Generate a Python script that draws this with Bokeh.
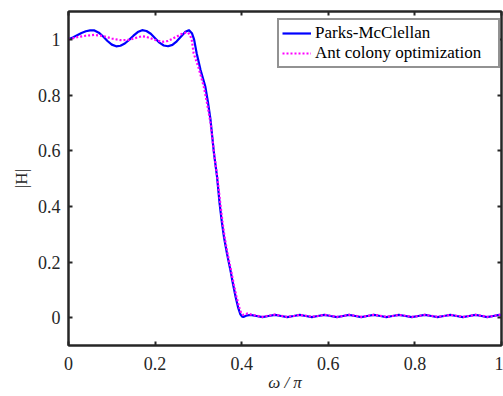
from bokeh.plotting import figure
from bokeh.models import LinearAxis, FixedTicker, Legend, LegendItem, Range1d
from bokeh.embed import file_html
from bokeh.resources import INLINE

# ---- data ----
pm_w = [0.00, 0.01, 0.02, 0.03, 0.04, 0.05, 0.06, 0.07, 0.08, 0.09, 0.10, 0.11, 0.12, 0.13,
        0.14, 0.15, 0.16, 0.17, 0.18, 0.19, 0.20, 0.21, 0.22, 0.23, 0.24, 0.25, 0.26, 0.27,
        0.278, 0.285, 0.290, 0.296, 0.305, 0.316, 0.322, 0.328, 0.336, 0.343, 0.349, 0.354,
        0.359, 0.366, 0.374, 0.380, 0.386, 0.392, 0.397, 0.401, 0.405, 0.410, 0.420,
        0.434, 0.448, 0.462, 0.477, 0.491, 0.505, 0.520, 0.534, 0.548, 0.562, 0.576, 0.591,
        0.605, 0.620, 0.634, 0.648, 0.662, 0.676, 0.690, 0.705, 0.720, 0.734, 0.748, 0.763,
        0.778, 0.793, 0.808, 0.823, 0.838, 0.852, 0.867, 0.882, 0.896, 0.911, 0.925, 0.940,
        0.954, 0.967, 0.981, 0.995, 1.000]
pm_h = [1.000, 1.007, 1.015, 1.023, 1.029, 1.032, 1.032, 1.024, 1.010, 0.994, 0.981, 0.975, 0.977, 0.985,
        0.998, 1.013, 1.026, 1.033, 1.030, 1.020, 1.004, 0.988, 0.978, 0.975, 0.980, 0.993, 1.010, 1.027,
        1.033, 1.022, 1.000, 0.950, 0.890, 0.830, 0.775, 0.711, 0.590, 0.507, 0.410, 0.345,
        0.290, 0.230, 0.170, 0.120, 0.074, 0.035, 0.012, 0.004, 0.003, 0.007, 0.010,
        0.006, 0.002, 0.006, 0.010, 0.006, 0.002, 0.006, 0.010, 0.006, 0.002, 0.006, 0.010,
        0.006, 0.002, 0.006, 0.010, 0.006, 0.002, 0.006, 0.010, 0.006, 0.002, 0.006, 0.010,
        0.006, 0.002, 0.006, 0.010, 0.006, 0.002, 0.006, 0.010, 0.006, 0.002, 0.006, 0.010,
        0.006, 0.002, 0.006, 0.010, 0.009]

aco_w = [0.00, 0.02, 0.04, 0.06, 0.08, 0.10, 0.12, 0.14, 0.16, 0.17, 0.18, 0.20, 0.216, 0.23,
         0.24, 0.25, 0.26, 0.27, 0.276, 0.281, 0.285, 0.289, 0.300, 0.3125, 0.320, 0.328,
         0.337, 0.344, 0.351, 0.356, 0.361, 0.368, 0.376, 0.382, 0.388, 0.394, 0.399, 0.403,
         0.407, 0.413, 0.420, 0.434, 0.448, 0.462, 0.477, 0.491, 0.505, 0.520, 0.534, 0.548,
         0.562, 0.576, 0.591, 0.605, 0.620, 0.634, 0.648, 0.662, 0.676, 0.690, 0.705, 0.720,
         0.734, 0.748, 0.763, 0.778, 0.793, 0.808, 0.823, 0.838, 0.852, 0.867, 0.882, 0.896,
         0.911, 0.925, 0.940, 0.954, 0.967, 0.981, 0.995, 1.000]
aco_h = [1.000, 1.008, 1.013, 1.016, 1.012, 1.003, 0.997, 0.998, 1.007, 1.011, 1.009, 0.998, 0.991, 0.994,
         1.002, 1.010, 1.018, 1.024, 1.024, 1.015, 0.995, 0.950, 0.900, 0.830, 0.770, 0.700,
         0.580, 0.500, 0.405, 0.340, 0.285, 0.225, 0.165, 0.118, 0.075, 0.038, 0.016, 0.010,
         0.012, 0.015, 0.012, 0.007, 0.003, 0.007, 0.011, 0.007, 0.003, 0.006, 0.010, 0.007,
         0.003, 0.006, 0.010, 0.007, 0.003, 0.006, 0.010, 0.007, 0.003, 0.006, 0.010, 0.007,
         0.003, 0.006, 0.010, 0.007, 0.003, 0.006, 0.010, 0.007, 0.003, 0.006, 0.010, 0.007,
         0.003, 0.006, 0.010, 0.007, 0.003, 0.006, 0.010, 0.009]

x_ticks = [0, 0.2, 0.4, 0.6, 0.8, 1]
x_tick_labels = ["0", "0.2", "0.4", "0.6", "0.8", "1"]
y_ticks = [0, 0.2, 0.4, 0.6, 0.8, 1]
y_tick_labels = ["0", "0.2", "0.4", "0.6", "0.8", "1"]
series_names = ["Parks-McClellan", "Ant colony optimization"]

FONT = "Liberation Serif"
INK = "#262626"

p = figure(width=503, height=396, output_backend="svg", toolbar_location=None,
           x_range=Range1d(0, 1), y_range=Range1d(-0.1, 1.1),
           min_border_left=68, min_border_right=2, min_border_top=11, min_border_bottom=51)
p.grid.visible = False
p.background_fill_color = "white"
p.border_fill_color = "white"
p.outline_line_color = INK
p.outline_line_width = 2
p.outline_line_alpha = 1

r1 = p.line(pm_w, pm_h, line_color="#0000FF", line_width=2.2)
r2 = p.line(aco_w, aco_h, line_color="#FF00FF", line_width=2.2, line_dash="2 2")

def style(ax, ticks, labels, show):
    ax.ticker = FixedTicker(ticks=ticks)
    ax.major_label_overrides = {t: (l if show else "") for t, l in zip(ticks, labels)}
    ax.major_tick_in = 4
    ax.major_tick_out = 0
    ax.minor_tick_in = 0
    ax.minor_tick_out = 0
    ax.major_tick_line_color = INK
    ax.major_tick_line_width = 2
    ax.axis_line_color = INK
    ax.axis_line_width = 2
    ax.major_label_text_font = FONT
    ax.major_label_text_font_size = "18px"
    ax.major_label_text_color = INK
    ax.axis_label_text_font = FONT
    ax.axis_label_text_font_size = "17px"
    ax.axis_label_text_color = INK
    ax.axis_label_text_font_style = "normal"

style(p.xaxis[0], x_ticks, x_tick_labels, True)
style(p.yaxis[0], y_ticks, y_tick_labels, True)
p.xaxis[0].axis_label = "ω / π"
p.xaxis[0].axis_label_text_font_style = "italic"
p.xaxis[0].major_label_standoff = 11
p.xaxis[0].axis_label_standoff = 0
p.yaxis[0].axis_label = "|H|"
p.yaxis[0].major_label_standoff = 8
p.yaxis[0].axis_label_standoff = 4

top = LinearAxis()
style(top, x_ticks, x_tick_labels, False)
top.major_label_standoff = 0
top.major_label_text_font_size = "1px"
p.add_layout(top, "above")
right = LinearAxis()
style(right, y_ticks, y_tick_labels, False)
right.major_label_standoff = 0
right.major_label_text_font_size = "1px"
p.add_layout(right, "right")

legend = Legend(items=[LegendItem(label=series_names[0], renderers=[r1]),
                       LegendItem(label=series_names[1], renderers=[r2])],
                location=(209, 277))
legend.label_text_font = FONT
legend.label_text_font_size = "17px"
legend.label_text_color = "black"
legend.border_line_color = INK
legend.border_line_width = 2
legend.background_fill_color = "white"
legend.background_fill_alpha = 1
legend.padding = 3
legend.margin = 0
legend.spacing = 0
legend.label_height = 20
legend.glyph_height = 20
legend.glyph_width = 29
legend.label_width = 180
legend.label_standoff = 4
p.add_layout(legend, "center")

open("out.html", "w").write(file_html(p, INLINE))
